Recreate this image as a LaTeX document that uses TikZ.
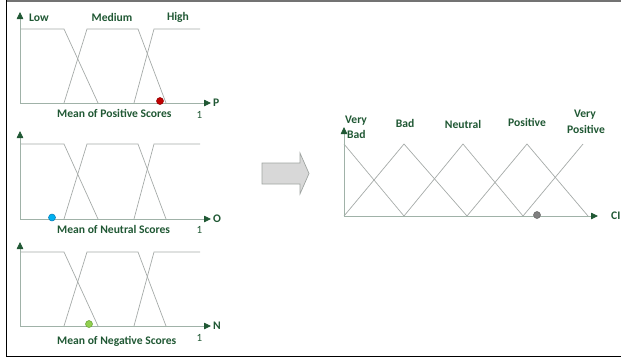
\documentclass[tikz,border=0pt]{standalone}
\usepackage{fontspec}
\setmainfont{Carlito}
\usetikzlibrary{arrows.meta}
\definecolor{dkgreen}{RGB}{32,88,52}
\definecolor{mfgray}{RGB}{165,170,168}
\definecolor{axgray}{RGB}{160,178,168}
\tikzset{
  mf/.style={draw=mfgray, line width=0.7pt},
  axisline/.style={draw=axgray, line width=0.8pt, -{Triangle[length=7pt,width=6.5pt,color=dkgreen]}},
  lbl/.style={text=dkgreen, font=\bfseries\fontsize{11.6}{12}\selectfont, inner sep=0pt},
  one/.style={text=dkgreen, font=\fontsize{11}{12}\selectfont, inner sep=0pt},
  dot/.style={circle, inner sep=0pt, minimum size=7pt, line width=0.5pt},
}
\begin{document}
\begin{tikzpicture}[x=1pt,y=-1pt]
\useasboundingbox (0,0) rectangle (621,360);
% frame
\draw[line width=2pt, draw=black!55] (6,1) -- (621,1);
\draw[line width=1pt] (6,0) -- (6,357);
\draw[line width=1pt] (6,356.5) -- (621,356.5);

% three input panels
\foreach \A/\T/\Top/\ax/\name/\val/\my/\oy in {103/29/12/P/Positive/1/113.5/115, 219/144/131/O/Neutral/2/229.5/229.5, 326/252/242/N/Negative/3/341/338}{
  \draw[mf] (20,\T) -- (64,\T) -- (98,\A);
  \draw[mf] (64,\A) -- (87,\T) -- (138,\T) -- (166,\A);
  \draw[mf] (134,\A) -- (154,\T) -- (200,\T);
  \coordinate (o\val) at (20,\A);
  \coordinate (yt\val) at (20,\Top);
  \coordinate (xt\val) at (211,\A);
  \draw[axisline] (o\val) -- (yt\val);
  \draw[axisline] (o\val) -- (xt\val);
  \node[lbl, anchor=west] (ax\val) at (213,\A) {\ax};
  \node[one] (one\val) at (199.5,\oy) {1};
  \node[lbl, anchor=west] (mean\val) at (57,\my) {Mean of \name\ Scores};
}
\node[lbl] (low) at (39,18) {Low};
\node[lbl] (medium) at (112,17) {Medium};
\node[lbl] (high) at (178,17) {High};

\node[dot, fill={rgb,255:red,192;green,0;blue,0}, draw={rgb,255:red,140;green,0;blue,0}] (d1) at (160,101) {};
\node[dot, fill={rgb,255:red,0;green,176;blue,240}, draw={rgb,255:red,0;green,120;blue,180}] (d2) at (52,217.5) {};
\node[dot, fill={rgb,255:red,146;green,208;blue,80}, draw={rgb,255:red,100;green,160;blue,50}] (d3) at (89,324) {};

% big arrow
\draw[fill={rgb,255:red,216;green,216;blue,216}, draw={rgb,255:red,160;green,165;blue,162}, line width=0.7pt]
  (262,163) -- (300,163) -- (300,153) -- (309,173.5) -- (300,194) -- (300,184) -- (262,184) -- cycle;

% output diagram
\draw[mf] (344,144) -- (404,216);
\draw[mf] (344,216) -- (404,144) -- (467,216);
\draw[mf] (404,216) -- (463,144) -- (523,216);
\draw[mf] (467,216) -- (527,144) -- (588,216);
\draw[mf] (523,216) -- (583,144);
\coordinate (oo) at (344,216);
\coordinate (oyt) at (344,127);
\coordinate (oxt) at (598,216);
\draw[axisline] (oo) -- (oyt);
\draw[axisline] (oo) -- (oxt);
\node[lbl, anchor=west] (ci) at (611,216) {CI};
\node[lbl, anchor=west] (vb1) at (345,121) {Very};
\node[lbl, anchor=west] (vb2) at (347,134) {Bad};
\node[lbl] (bad) at (405,123.5) {Bad};
\node[lbl] (neu) at (463,124) {Neutral};
\node[lbl] (pos) at (527,122) {Positive};
\node[lbl] (vp1) at (585,115) {Very};
\node[lbl] (vp2) at (586,129) {Positive};
\node[dot, fill={rgb,255:red,128;green,128;blue,128}, draw={rgb,255:red,100;green,100;blue,100}] (d4) at (537,215) {};
\end{tikzpicture}
\end{document}
